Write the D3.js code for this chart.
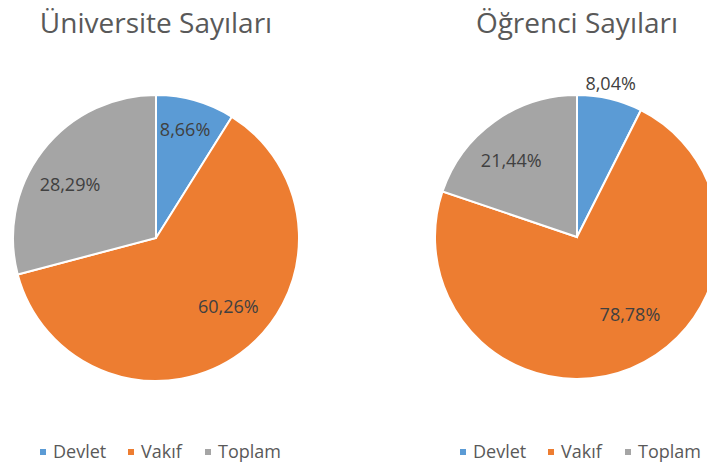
<!DOCTYPE html>
<meta charset="utf-8">
<style>
body { margin: 0; background: #fff; }
.title { font: 28px "Open Sans", sans-serif; fill: #595959; }
.lbl { font: 18px "Open Sans", sans-serif; fill: #404040; }
.legend text { font: 18px "Open Sans", sans-serif; fill: #595959; }
</style>
<svg width="707" height="467"></svg>
<script src="https://d3js.org/d3.v7.min.js"></script>
<script>
// data
var categories = ["Devlet", "Vakıf", "Toplam"];
var titles = ["Üniversite Sayıları", "Öğrenci Sayıları"];
var universityValues = [8.66, 60.26, 28.29];
var studentValues = [8.04, 78.78, 21.44];
var colors = ["#5B9BD5", "#ED7D31", "#A5A5A5"];

var svg = d3.select("svg");

// layout per pie: center, radius, label placement [radius, angle shift in degrees]
var charts = [
  {title: titles[0], values: universityValues, cx: 156, cy: 238, r: 143,
   labelPos: [[112, -1], [100, -10], [101, -6]], legendX: 40},
  {title: titles[1], values: studentValues, cx: 577, cy: 237, r: 142,
   labelPos: [[157, -1], [94, -12], [101, -5]], legendX: 460}
];

var pie = d3.pie().sort(null).value(d => d);
var arc = d3.arc().innerRadius(0);

function fmt(v) { return v.toFixed(2).replace(".", ",") + "%"; }

charts.forEach(function(c) {
  svg.append("text")
    .attr("class", "title")
    .attr("x", c.cx)
    .attr("y", 33)
    .attr("text-anchor", "middle")
    .text(c.title);

  var g = svg.append("g").attr("transform", "translate(" + c.cx + "," + c.cy + ")");
  var arcs = pie(c.values);

  g.selectAll("path")
    .data(arcs)
    .enter().append("path")
      .attr("d", d => arc.outerRadius(c.r)(d))
      .attr("fill", (d, i) => colors[i])
      .attr("stroke", "#fff")
      .attr("stroke-width", 2);

  g.selectAll("text")
    .data(arcs)
    .enter().append("text")
      .attr("class", "lbl")
      .attr("text-anchor", "middle")
      .attr("dy", "0.35em")
      .attr("transform", function(d, i) {
        var a = (d.startAngle + d.endAngle) / 2 + c.labelPos[i][1] * Math.PI / 180;
        var rr = c.labelPos[i][0];
        return "translate(" + (Math.sin(a) * rr) + "," + (-Math.cos(a) * rr) + ")";
      })
      .text(d => fmt(d.data));

  // legend
  var legend = svg.append("g").attr("class", "legend")
    .attr("transform", "translate(" + c.legendX + ",452)");
  var offsets = [0, 88, 165];
  var item = legend.selectAll("g")
    .data(categories)
    .enter().append("g")
      .attr("transform", (d, i) => "translate(" + offsets[i] + ",0)");
  item.append("rect")
    .attr("x", 0).attr("y", -3)
    .attr("width", 6).attr("height", 6)
    .attr("fill", (d, i) => colors[i]);
  item.append("text")
    .attr("x", 13)
    .attr("dy", "0.35em")
    .text(d => d);
});
</script>
